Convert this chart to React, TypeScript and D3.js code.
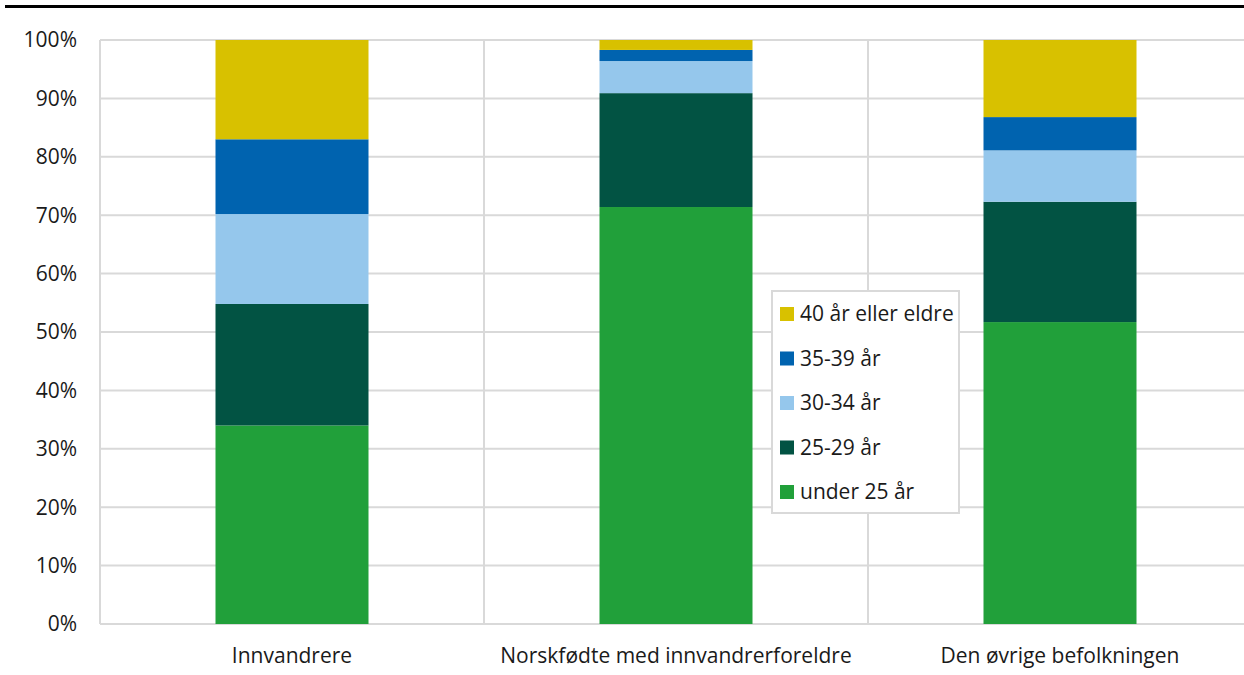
import { useEffect, useRef } from "react";
import * as d3 from "d3";

// categories along the x axis
const categories = ["Innvandrere", "Norskfødte med innvandrerforeldre", "Den øvrige befolkningen"];

// age groups, bottom to top
const series = ["under 25 år", "25-29 år", "30-34 år", "35-39 år", "40 år eller eldre"];
const colors = ["#21a03a", "#025343", "#95c7ec", "#0063af", "#d8c100"];

// share (%) per category, one array per age group
const under25 = [34.0, 71.4, 51.7];
const age2529 = [20.8, 19.5, 20.6];
const age3034 = [15.4, 5.5, 8.8];
const age3539 = [12.8, 1.9, 5.7];
const age40 = [17.0, 1.7, 13.2];

const yTicks = [0, 10, 20, 30, 40, 50, 60, 70, 80, 90, 100];

const W = 1244, H = 675;
const margin = { top: 40, right: -8, bottom: 51, left: 100 };
const FONT = "'Open Sans', 'Noto Sans', sans-serif";
const FS = 21;

function App() {
  const ref = useRef<SVGSVGElement>(null);

  useEffect(() => {
    const svg = d3.select(ref.current);
    svg.selectAll("*").remove();

    const width = W - margin.left - margin.right;
    const height = H - margin.top - margin.bottom;

    const rows = categories.map((c, i) => ({
      cat: c,
      [series[0]]: under25[i],
      [series[1]]: age2529[i],
      [series[2]]: age3034[i],
      [series[3]]: age3539[i],
      [series[4]]: age40[i],
    }));
    const stacked = d3.stack<any>().keys(series)(rows);

    const x = d3.scaleBand().domain(categories).range([0, width]).paddingInner(0).paddingOuter(0);
    const y = d3.scaleLinear().domain([0, 100]).range([height, 0]);
    const barW = 153;

    // top rule
    svg.append("rect").attr("x", 5).attr("y", 5).attr("width", W).attr("height", 3).attr("fill", "#000");

    const g = svg.append("g").attr("transform", `translate(${margin.left},${margin.top})`);

    // horizontal grid
    g.selectAll(".hgrid")
      .data(yTicks)
      .enter()
      .append("line")
      .attr("x1", 0)
      .attr("x2", width)
      .attr("y1", (d) => y(d))
      .attr("y2", (d) => y(d))
      .attr("stroke", "#d9d9d9")
      .attr("stroke-width", 2);

    // vertical grid at category boundaries
    g.selectAll(".vgrid")
      .data(categories)
      .enter()
      .append("line")
      .attr("x1", (d) => x(d)!)
      .attr("x2", (d) => x(d)!)
      .attr("y1", 0)
      .attr("y2", height)
      .attr("stroke", "#d9d9d9")
      .attr("stroke-width", 2);

    // bars
    g.selectAll(".layer")
      .data(stacked)
      .enter()
      .append("g")
      .attr("fill", (_d, i) => colors[i])
      .selectAll("rect")
      .data((d) => d)
      .enter()
      .append("rect")
      .attr("x", (d: any) => x(d.data.cat)! + x.bandwidth() / 2 - barW / 2)
      .attr("width", barW)
      .attr("y", (d) => y(d[1]))
      .attr("height", (d) => y(d[0]) - y(d[1]));

    // y tick labels
    g.selectAll(".ytick")
      .data(yTicks)
      .enter()
      .append("text")
      .attr("x", -23)
      .attr("y", (d) => y(d))
      .attr("dy", "0.35em")
      .attr("text-anchor", "end")
      .attr("font-family", FONT)
      .attr("font-size", FS)
      .attr("fill", "#1a1a1a")
      .text((d) => d + "%");

    // x labels
    g.selectAll(".xtick")
      .data(categories)
      .enter()
      .append("text")
      .attr("x", (d) => x(d)! + x.bandwidth() / 2)
      .attr("y", height + 39)
      .attr("text-anchor", "middle")
      .attr("font-family", FONT)
      .attr("font-size", FS)
      .attr("fill", "#1a1a1a")
      .text((d) => d);

    // legend
    const lg = svg.append("g").attr("transform", "translate(772,291)");
    lg.append("rect")
      .attr("width", 187)
      .attr("height", 222)
      .attr("fill", "#fff")
      .attr("stroke", "#d9d9d9")
      .attr("stroke-width", 2);
    const order = series.map((s, i) => ({ s, c: colors[i] })).reverse();
    const item = lg
      .selectAll(".item")
      .data(order)
      .enter()
      .append("g")
      .attr("transform", (_d, i) => `translate(8,${23 + i * 44.5})`);
    item.append("rect").attr("y", -7).attr("width", 14).attr("height", 14).attr("fill", (d) => d.c);
    item
      .append("text")
      .attr("x", 20)
      .attr("dy", "0.35em")
      .attr("font-family", FONT)
      .attr("font-size", FS)
      .attr("fill", "#1a1a1a")
      .text((d) => d.s);
  }, []);

  return (
    <svg
      ref={ref}
      width={W}
      height={H}
      style={{ position: "absolute", left: 0, top: 0, background: "#fff" }}
    />
  );
}

export default App;
